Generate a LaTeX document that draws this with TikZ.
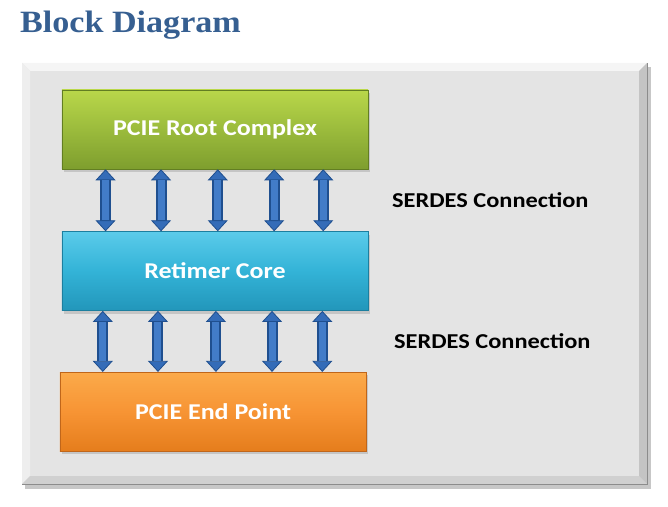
\documentclass[tikz,border=0pt]{standalone}
\usepackage{fontspec}
\setmainfont{Liberation Serif}
\newfontfamily\calfont{Carlito}[FakeStretch=1.15]
\newfontfamily\headfont{Liberation Serif}[FakeStretch=1.1]
\usetikzlibrary{positioning, calc, shadows, arrows.meta}

\definecolor{title_blue}{RGB}{54,95,145}
\definecolor{panel_gray}{RGB}{228,228,228}
\definecolor{panel_top}{RGB}{245,245,245}
\definecolor{panel_left}{RGB}{238,238,238}
\definecolor{panel_bot}{RGB}{208,208,208}
\definecolor{panel_right}{RGB}{196,196,196}
\definecolor{green_top}{RGB}{185,215,74}
\definecolor{green_mid}{RGB}{155,187,60}
\definecolor{green_bot}{RGB}{126,158,46}
\definecolor{green_edge}{RGB}{98,126,34}
\definecolor{cyan_top}{RGB}{91,203,234}
\definecolor{cyan_mid}{RGB}{51,179,215}
\definecolor{cyan_bot}{RGB}{34,150,186}
\definecolor{cyan_edge}{RGB}{28,127,159}
\definecolor{orange_top}{RGB}{251,170,74}
\definecolor{orange_mid}{RGB}{247,148,52}
\definecolor{orange_bot}{RGB}{229,125,28}
\definecolor{orange_edge}{RGB}{192,102,26}
\definecolor{arrow_dark}{RGB}{31,79,143}
\definecolor{arrow_mid}{RGB}{52,108,184}
\definecolor{arrow_light}{RGB}{66,124,200}

\begin{document}
\begin{tikzpicture}[x=1bp, y=-1bp,
    box_style/.style={rectangle, minimum width=306bp, minimum height=79bp,
      inner sep=0pt, text=white, line width=0.6bp,
      font={\calfont\bfseries\fontsize{22.6bp}{26bp}\selectfont},
      drop shadow={opacity=0.3, shadow xshift=2bp, shadow yshift=-3bp}},
    label_style/.style={anchor=base west, inner sep=0pt, text=black,
      font={\calfont\bfseries\fontsize{21.2bp}{25bp}\selectfont}},
    serdes_arrow/.style={line width=11bp, draw=arrow_dark,
      {Triangle[width=20bp, length=11bp, fill=arrow_mid, line width=0.8bp]}-{Triangle[width=20bp, length=11bp, fill=arrow_mid, line width=0.8bp]},
      postaction={draw=arrow_light, line width=7bp, shorten <=11bp, shorten >=11bp, arrows=-}}]

  \useasboundingbox (0,0) rectangle (668,507);

  % title
  \node[anchor=base west, inner sep=0pt, text=title_blue,
    font={\headfont\bfseries\fontsize{31bp}{36bp}\selectfont}] (diag_title) at (20,33) {Block Diagram};

  % bevelled panel
  \fill[black, opacity=0.22] (25,67) rectangle (651,489);
  \fill[panel_gray] (22,63) rectangle (647,484);
  \fill[panel_top] (22,63) -- (647,63) -- (639,71) -- (30,71) -- cycle;
  \fill[panel_left] (22,63) -- (30,71) -- (30,476) -- (22,484) -- cycle;
  \fill[panel_bot] (22,484) -- (647,484) -- (639,476) -- (30,476) -- cycle;
  \fill[panel_right] (647,63) -- (647,484) -- (639,476) -- (639,71) -- cycle;
  \draw[black!45, line width=0.8bp] (22,484) -- (647,484) -- (647,63);

  % blocks
  \node[box_style, draw=green_edge, top color=green_top, bottom color=green_bot, middle color=green_mid]
    (root_cplx) at (215,129.5) {PCIE Root Complex};
  \node[box_style, draw=cyan_edge, top color=cyan_top, bottom color=cyan_bot, middle color=cyan_mid,
    below=62bp of root_cplx] (retimer_core) {Retimer Core};
  \node[box_style, draw=orange_edge, top color=orange_top, bottom color=orange_bot, middle color=orange_mid,
    below=61bp of retimer_core, xshift=-2bp] (end_point) {PCIE End Point};

  % serdes lanes
  \foreach \f in {0.143,0.324,0.509,0.693,0.853} {
    \coordinate (lane_up) at ($(root_cplx.south west)!\f!(root_cplx.south east)$);
    \draw[serdes_arrow] (lane_up) -- (lane_up |- retimer_core.north);
  }
  \foreach \f in {0.134,0.314,0.503,0.686,0.850} {
    \coordinate (lane_dn) at ($(retimer_core.south west)!\f!(retimer_core.south east)$);
    \draw[serdes_arrow] (lane_dn) -- (lane_dn |- end_point.north);
  }

  \node[label_style] (serdes_top) at (392,208) {SERDES Connection};
  \node[label_style] (serdes_bot) at (394,348) {SERDES Connection};
\end{tikzpicture}
\end{document}
